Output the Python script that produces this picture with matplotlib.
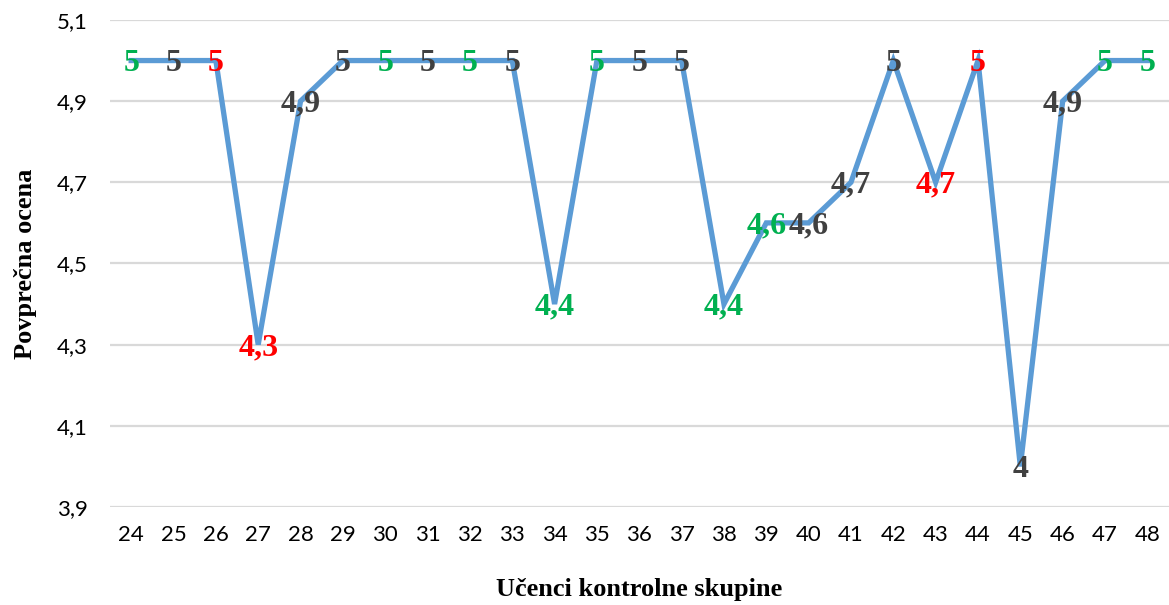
import matplotlib
matplotlib.use("Agg")
import matplotlib.pyplot as plt

# Students of the control group and their average grade
students = list(range(24, 49))
avg_grade = [5, 5, 5, 4.3, 4.9, 5, 5, 5, 5, 5, 4.4, 5, 5, 5, 4.4, 4.6, 4.6, 4.7,
             5, 4.7, 5, 4, 4.9, 5, 5]
# Colour group of each data label: g = green, k = dark grey, r = red
label_group = ["g", "k", "r", "r", "k", "k", "g", "k", "g", "k", "g", "g", "k", "k",
               "g", "g", "k", "k", "k", "r", "r", "k", "k", "g", "g"]
y_ticks = [3.9, 4.1, 4.3, 4.5, 4.7, 4.9, 5.1]

group_colors = {"g": "#00b050", "k": "#404040", "r": "#ff0000"}

fig = plt.figure(figsize=(11.69, 6.05), dpi=100)
ax = fig.add_axes([0.0941, 0.162, 0.9055, 0.805])

pos = list(range(len(students)))
ax.plot(pos, avg_grade, color="#5b9bd5", lw=3.8, solid_joinstyle="miter", zorder=3)

for x, v, g in zip(pos, avg_grade, label_group):
    txt = f"{v:g}".replace(".", ",")
    ax.annotate(txt, (x, v), xytext=(0, -2), textcoords="offset points",
                ha="center", va="center", color=group_colors[g],
                fontsize=23, fontweight="bold", family="Liberation Serif", zorder=4)

ax.set_xlim(-0.5, len(students) - 0.5)
ax.set_ylim(3.9, 5.1)
ax.set_yticks(y_ticks)
ax.set_yticklabels([f"{t:.1f}".replace(".", ",") for t in y_ticks])
ax.set_xticks(pos)
ax.set_xticklabels([str(s) for s in students])
ax.grid(axis="y", color="#d9d9d9", lw=1.6, zorder=0)
ax.set_axisbelow(True)
for s in ax.spines.values():
    s.set_visible(False)
ax.tick_params(axis="both", length=0, labelsize=16, labelcolor="black")
ax.tick_params(axis="x", pad=13)
ax.tick_params(axis="y", pad=16)
for lab in ax.get_xticklabels() + ax.get_yticklabels():
    lab.set_family("Lato")

ax.set_xlabel("Učenci kontrolne skupine", family="Liberation Serif", fontweight="bold",
              fontsize=19, labelpad=24)
ax.set_ylabel("Povprečna ocena", family="Liberation Serif", fontweight="bold",
              fontsize=19, labelpad=14)

fig.savefig("out.png", dpi=100)
